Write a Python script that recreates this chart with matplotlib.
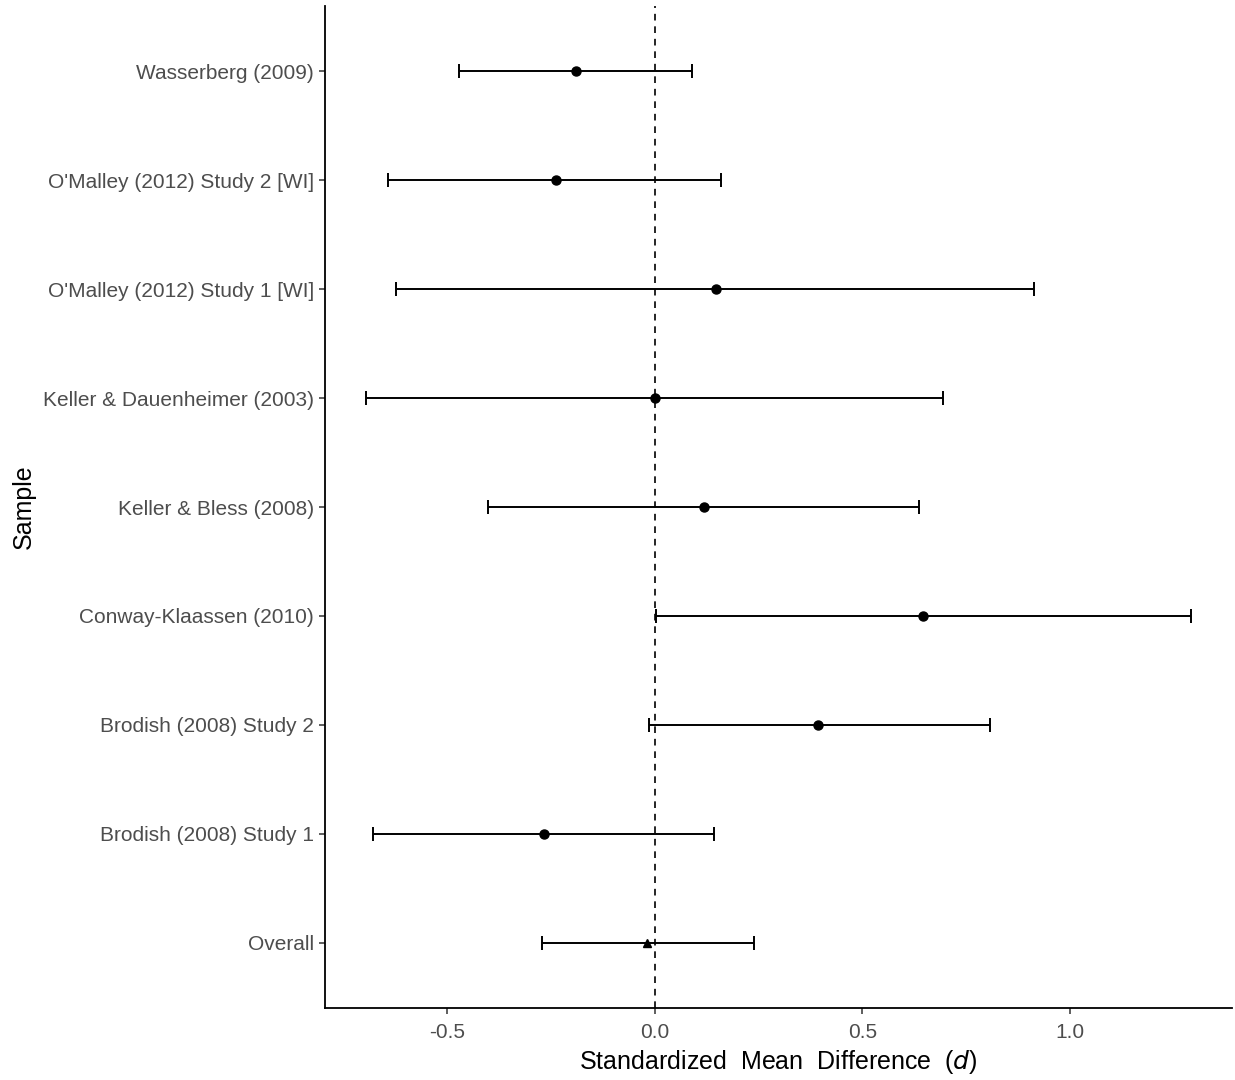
import numpy as np
import matplotlib.pyplot as plt

# Forest plot data (standardized mean difference and 95% CI)
samples = ["Overall", "Brodish (2008) Study 1", "Brodish (2008) Study 2",
           "Conway-Klaassen (2010)", "Keller & Bless (2008)",
           "Keller & Dauenheimer (2003)", "O'Malley (2012) Study 1 [WI]",
           "O'Malley (2012) Study 2 [WI]", "Wasserberg (2009)"]
d_est = [-0.019, -0.267, 0.394, 0.647, 0.118, 0.000, 0.147, -0.238, -0.190]
ci_low = [-0.272, -0.678, -0.014, 0.002, -0.401, -0.695, -0.623, -0.642, -0.471]
ci_high = [0.238, 0.142, 0.808, 1.291, 0.637, 0.695, 0.913, 0.159, 0.089]

plt.rcParams['font.family'] = ['Liberation Sans', 'DejaVu Sans']

fig = plt.figure(figsize=(12.35, 10.8), dpi=100)
ax = fig.add_axes([0.2632, 0.0667, 0.7344, 0.9277])

y = np.arange(1, len(samples) + 1)
d_est = np.array(d_est)
lo = d_est - np.array(ci_low)
hi = np.array(ci_high) - d_est

ax.axvline(0, color="black", linestyle=(0, (4, 3.5)), linewidth=1.2, zorder=1)
ax.errorbar(d_est, y, xerr=[lo, hi], fmt="none", ecolor="black",
            elinewidth=1.4, capsize=5, capthick=1.4, zorder=2)
ax.plot(d_est[1:], y[1:], "o", color="black", markersize=6.5, zorder=3)
ax.plot(d_est[:1], y[:1], "^", color="black", markersize=6, zorder=3)

span = max(ci_high) - min(ci_low)
ax.set_xlim(min(ci_low) - 0.05 * span, max(ci_high) + 0.05 * span)
ax.set_ylim(0.4, len(samples) + 0.6)
ax.set_yticks(y)
ax.set_yticklabels(samples)
ax.set_xticks([-0.5, 0.0, 0.5, 1.0])
ax.set_xticklabels(["-0.5", "0.0", "0.5", "1.0"])

for side in ["top", "right"]:
    ax.spines[side].set_visible(False)
for side in ["left", "bottom"]:
    ax.spines[side].set_linewidth(1.3)
ax.tick_params(axis="both", colors="#333333", labelcolor="#4d4d4d",
               labelsize=15, length=4, width=1.1, pad=4)
ax.tick_params(axis="x", pad=7)

ax.set_xlabel("Standardized  Mean  Difference  ($\\it{d}$)", fontsize=18,
              labelpad=4)
ax.set_ylabel("Sample", fontsize=18, labelpad=5)

fig.savefig("out.png", dpi=100)
